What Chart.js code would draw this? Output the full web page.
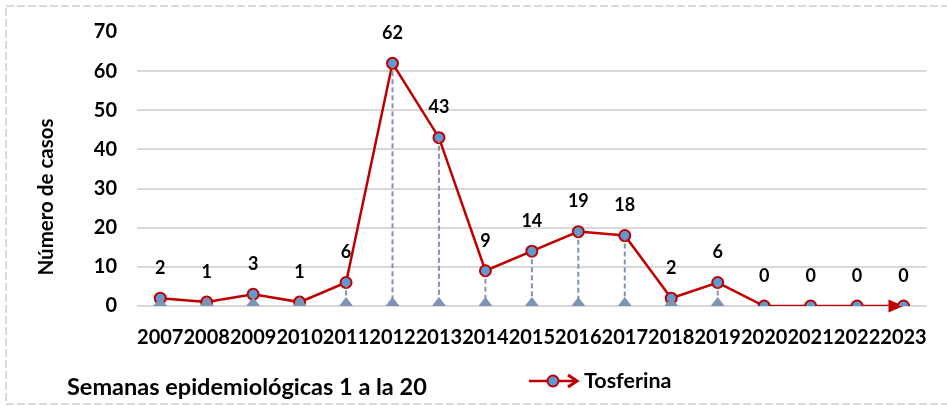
<!DOCTYPE html>
<html>
<head>
<meta charset="utf-8">
<script src="https://cdn.jsdelivr.net/npm/chart.js@4"></script>
<style>
  body { margin: 0; background: #fff; }
  canvas { display: block; }
</style>
</head>
<body>
<canvas id="chart" width="947" height="406"></canvas>
<script>
// data
const years = ['2007', '2008', '2009', '2010', '2011', '2012', '2013', '2014', '2015',
               '2016', '2017', '2018', '2019', '2020', '2021', '2022', '2023'];
const casos = [2, 1, 3, 1, 6, 62, 43, 9, 14, 19, 18, 2, 6, 0, 0, 0, 0];
const yTicks = [0, 10, 20, 30, 40, 50, 60, 70];
const serieNombre = 'Tosferina';
const tituloY = 'Número de casos';
const tituloX = 'Semanas epidemiológicas 1 a la 20';

const FONT = "Lato, 'DejaVu Sans', sans-serif";
const RED = '#c00000';
const BLUE = '#5b9bd5';
const SLATE = '#7f93b3';

Chart.defaults.font.family = FONT;
Chart.defaults.font.weight = 'bold';
Chart.defaults.color = '#000';

// dashed frame round the whole chart
const framePlugin = {
    id: 'frame',
    beforeDraw(chart) {
        const ctx = chart.ctx;
        ctx.save();
        ctx.strokeStyle = '#d9d9d9';
        ctx.lineWidth = 2;
        ctx.setLineDash([8, 3]);
        ctx.strokeRect(6, 6, 960, 398);
        ctx.restore();
    }
};

// arrow head at the end of the line (under the markers)
const arrowPlugin = {
    id: 'arrowEnd',
    beforeDatasetsDraw(chart) {
        const pts = chart.getDatasetMeta(0).data;
        const a = pts[pts.length - 2], b = pts[pts.length - 1];
        const ang = Math.atan2(b.y - a.y, b.x - a.x);
        const ctx = chart.ctx;
        ctx.save();
        ctx.translate(b.x, b.y);
        ctx.rotate(ang);
        ctx.fillStyle = RED;
        ctx.beginPath();
        ctx.moveTo(0, 0);
        ctx.lineTo(-15, -6.5);
        ctx.lineTo(-15, 6.5);
        ctx.closePath();
        ctx.fill();
        ctx.restore();
    }
};

// drop lines + triangles, and value labels
const dropPlugin = {
    id: 'drops',
    afterDatasetsDraw(chart) {
        const ctx = chart.ctx;
        const pts = chart.getDatasetMeta(0).data;
        const y0 = chart.scales.y.getPixelForValue(0);
        ctx.save();
        pts.forEach((pt, i) => {
            if (casos[i] <= 0) return;
            ctx.strokeStyle = SLATE;
            ctx.lineWidth = 2;
            ctx.setLineDash([5, 3]);
            ctx.beginPath();
            ctx.moveTo(pt.x, pt.y);
            ctx.lineTo(pt.x, y0);
            ctx.stroke();
            ctx.setLineDash([]);
            ctx.fillStyle = SLATE;
            ctx.beginPath();
            ctx.moveTo(pt.x - 7, y0);
            ctx.lineTo(pt.x + 7, y0);
            ctx.lineTo(pt.x, y0 - 9);
            ctx.closePath();
            ctx.fill();
        });
        ctx.fillStyle = '#000';
        ctx.font = 'bold 18px ' + FONT;
        ctx.textAlign = 'center';
        ctx.textBaseline = 'middle';
        pts.forEach((pt, i) => {
            ctx.fillText(String(casos[i]), pt.x, pt.y - 30);
        });
        ctx.restore();
    }
};

// axis title, bottom caption and legend
const textPlugin = {
    id: 'texts',
    afterDraw(chart) {
        const ctx = chart.ctx;
        ctx.save();
        ctx.fillStyle = '#000';
        ctx.textBaseline = 'middle';

        ctx.save();
        ctx.font = 'bold 20.5px ' + FONT;
        ctx.translate(46, 197);
        ctx.rotate(-Math.PI / 2);
        ctx.textAlign = 'center';
        ctx.fillText(tituloY, 0, 0);
        ctx.restore();

        ctx.font = 'bold 23.5px ' + FONT;
        ctx.textAlign = 'left';
        ctx.fillText(tituloX, 67, 387);

        // legend
        const ly = 381;
        ctx.strokeStyle = RED;
        ctx.lineWidth = 2.5;
        ctx.beginPath();
        ctx.moveTo(529, ly);
        ctx.lineTo(576, ly);
        ctx.stroke();
        ctx.lineWidth = 3;
        ctx.beginPath();
        ctx.moveTo(568, ly - 6);
        ctx.lineTo(577, ly);
        ctx.lineTo(568, ly + 6);
        ctx.stroke();
        ctx.fillStyle = BLUE;
        ctx.lineWidth = 2;
        ctx.beginPath();
        ctx.arc(553, ly, 5.5, 0, Math.PI * 2);
        ctx.fill();
        ctx.stroke();
        ctx.fillStyle = '#000';
        ctx.font = 'bold 21.5px ' + FONT;
        ctx.fillText(serieNombre, 584, ly);
        ctx.restore();
    }
};

new Chart(document.getElementById('chart'), {
    type: 'line',
    data: {
        labels: years,
        datasets: [{
            label: serieNombre,
            data: casos,
            borderColor: RED,
            borderWidth: 2.5,
            pointRadius: 5.5,
            pointBorderWidth: 2,
            pointBackgroundColor: BLUE,
            pointBorderColor: RED,
            tension: 0
        }]
    },
    options: {
        responsive: false,
        animation: false,
        layout: { padding: { top: 26, right: 10, left: 0, bottom: 0 } },
        plugins: { legend: { display: false }, tooltip: { enabled: false } },
        scales: {
            x: {
                offset: true,
                grid: { display: false, drawTicks: false },
                border: { display: false },
                ticks: { font: { size: 20 }, padding: 20, maxRotation: 0, autoSkip: false },
                afterFit(s) { s.height = 100; }
            },
            y: {
                min: 0,
                max: 70,
                afterBuildTicks(s) { s.ticks = yTicks.map(v => ({ value: v })); },
                grid: {
                    drawTicks: false,
                    lineWidth: 2,
                    color: c => (c.tick && c.tick.value === 70) ? 'rgba(0,0,0,0)' : '#d9d9d9'
                },
                border: { display: false },
                ticks: { font: { size: 20 }, padding: 20 },
                afterFit(s) { s.width = 137; }
            }
        }
    },
    plugins: [framePlugin, arrowPlugin, dropPlugin, textPlugin]
});
</script>
</body>
</html>
